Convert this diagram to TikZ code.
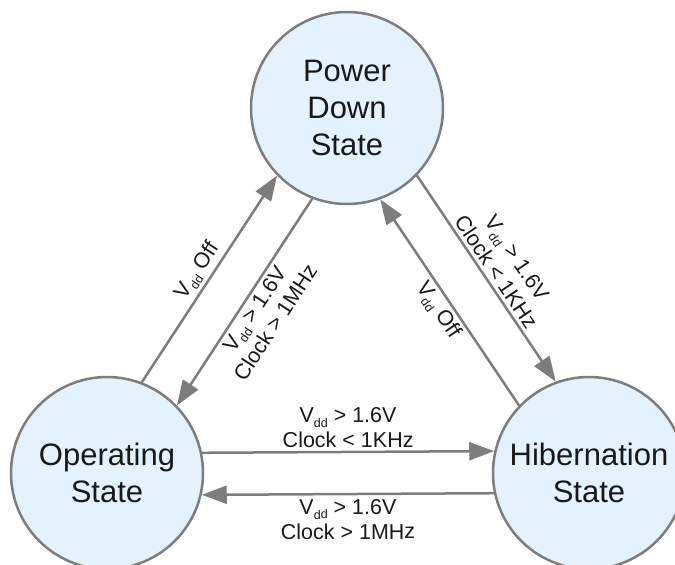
\documentclass[tikz,border=0pt]{standalone}
\usepackage{fontspec}
\setmainfont{Liberation Sans}
\usetikzlibrary{arrows.meta}
\definecolor{statefill}{RGB}{227,242,253}
\definecolor{edgegray}{RGB}{125,125,125}
\definecolor{txt}{RGB}{25,25,25}
\newcommand\vdd{V\raisebox{-4.5pt}{\fontsize{12.5}{12.5}\selectfont dd}}
\begin{document}
\begin{tikzpicture}[x=1pt,y=-1pt,
  state/.style={circle, draw=edgegray, line width=2.5pt, fill=statefill,
    minimum size=192pt, inner sep=0pt, align=center, text=txt,
    font=\fontsize{31}{37}\selectfont},
  trans/.style={draw=edgegray, line width=2.5pt,
    -{Triangle[length=25pt,width=18pt]}},
  lbl/.style={font=\fontsize{21.5}{25}\selectfont, align=center, sloped,
    inner sep=3pt, text=txt}]
\fill[white] (0,0) rectangle (675,565);
\useasboundingbox (0,0) rectangle (675,565);
\clip (0,0) rectangle (675,565);
\node[state] (pd) at (347,108) {Power\\Down\\State};
\node[state] (op) at (107,473) {Operating\\State};
\node[state] (hb) at (589,473) {Hibernation\\State};
% left pair
\draw[trans] (op.69.3) -- node[lbl, above] {\vdd\ Off} (pd.224.1);
\draw[trans] (pd.249.3) -- node[lbl, below] {\vdd\ > 1.6V\\Clock > 1MHz} (op.44.1);
% right pair
\draw[trans] (pd.316.15) -- node[lbl, above] {\vdd\ > 1.6V\\Clock < 1KHz} (hb.110.95);
\draw[trans] (hb.136.15) -- node[lbl, below] {\vdd\ Off} (pd.290.95);
% bottom pair
\draw[trans] (op.12.6) -- node[lbl, above] {\vdd\ > 1.6V\\Clock < 1KHz} (hb.167.4);
\draw[trans] (hb.192.6) -- node[lbl, below, inner sep=4pt] {\vdd\ > 1.6V\\Clock > 1MHz} (op.347.4);
\end{tikzpicture}
\end{document}
